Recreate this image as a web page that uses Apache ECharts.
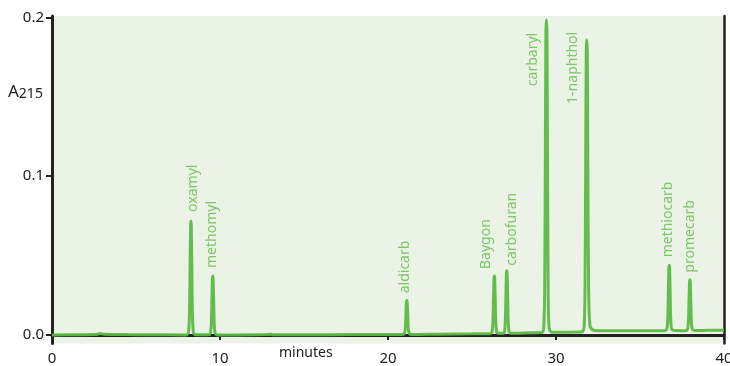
<!DOCTYPE html>
<html><head><meta charset="utf-8">
<script src="https://cdn.jsdelivr.net/npm/echarts@6/dist/echarts.min.js"></script>
<style>html,body{margin:0;padding:0;background:#fff}#c{width:730px;height:366px}</style>
</head><body><div id="c"></div>
<script>
// ---- data ----
const xTicks = [0, 10, 20, 30, 40];
const yTicks = [0.0, 0.1, 0.2];
const peakNames = ['oxamyl','methomyl','aldicarb','Baygon','carbofuran','carbaryl','1-naphthol','methiocarb','promecarb'];
const peakTimes = [8.27, 9.57, 21.12, 26.33, 27.07, 29.43, 31.83, 36.74, 37.97];
const peakHeights = [0.0718, 0.0371, 0.0218, 0.0371, 0.0404, 0.1984, 0.1858, 0.0438, 0.0348];
const traceTime = [
  0, 1.5, 2.6, 2.85, 3.1, 4.5, 6, 7.9,
  8.00, 8.12, 8.18, 8.22, 8.25, 8.27, 8.29, 8.32, 8.36, 8.42, 8.55,
  9.30, 9.42, 9.48, 9.52, 9.55, 9.57, 9.59, 9.62, 9.66, 9.72, 9.85,
  11, 12.8, 13, 13.2, 15, 18, 20.8,
  20.85, 20.97, 21.03, 21.07, 21.10, 21.12, 21.14, 21.17, 21.21, 21.27, 21.40,
  23, 25, 26.05,
  26.06, 26.18, 26.24, 26.28, 26.31, 26.33, 26.35, 26.38, 26.42, 26.48, 26.58,
  26.80, 26.92, 26.98, 27.02, 27.05, 27.07, 27.09, 27.12, 27.16, 27.22, 27.35,
  28.5, 29.15,
  29.27, 29.33, 29.37, 29.40, 29.43, 29.46, 29.49, 29.53, 29.59, 29.75,
  31.5,
  31.55, 31.67, 31.73, 31.77, 31.80, 31.83, 31.86, 31.89, 31.94, 32.02, 32.2, 32.5,
  34, 36.45,
  36.47, 36.59, 36.65, 36.69, 36.72, 36.74, 36.76, 36.79, 36.83, 36.89, 37.05,
  37.70, 37.82, 37.88, 37.92, 37.95, 37.97, 37.99, 38.02, 38.06, 38.12, 38.28,
  39, 40
];
const traceA215 = [
  0.0000, 0.0001, 0.0002, 0.0009, 0.0004, 0.0002, 0.0001, 0.0000,
  0.0000, 0.0015, 0.0122, 0.0452, 0.0689, 0.0718, 0.0689, 0.0452, 0.0122, 0.0015, 0.0001,
  0.0001, 0.0008, 0.0063, 0.0234, 0.0356, 0.0371, 0.0356, 0.0234, 0.0063, 0.0008, 0.0000,
  0.0000, 0.0002, 0.0004, 0.0001, 0.0001, 0.0002, 0.0003,
  0.0003, 0.0007, 0.0040, 0.0139, 0.0210, 0.0218, 0.0210, 0.0139, 0.0040, 0.0007, 0.0003,
  0.0005, 0.0007, 0.0008,
  0.0008, 0.0015, 0.0070, 0.0237, 0.0357, 0.0371, 0.0357, 0.0237, 0.0070, 0.0015, 0.0010,
  0.0009, 0.0016, 0.0076, 0.0257, 0.0388, 0.0404, 0.0388, 0.0257, 0.0076, 0.0016, 0.0010,
  0.0014, 0.0015,
  0.0045, 0.0340, 0.1250, 0.1900, 0.1984, 0.1900, 0.1250, 0.0340, 0.0045, 0.0017,
  0.0018,
  0.0018, 0.0045, 0.0320, 0.1170, 0.1780, 0.1858, 0.1780, 0.1170, 0.0320, 0.0060, 0.0030, 0.0026,
  0.0026, 0.0027,
  0.0027, 0.0035, 0.0095, 0.0286, 0.0421, 0.0438, 0.0421, 0.0286, 0.0095, 0.0035, 0.0028,
  0.0027, 0.0033, 0.0080, 0.0229, 0.0335, 0.0348, 0.0335, 0.0229, 0.0080, 0.0033, 0.0028,
  0.0029, 0.0030
];

// ---- styling ----
const GREEN = '#5cb944';
const LABEL_GREEN = '#5fba46';
const AXIS = '#222222';
const FONT = 'Noto Sans';
const labelStyle = {
  // [position, distance, screen x shift, align]
  'oxamyl':     ['top', 9, 2, 'left'],
  'methomyl':   ['top', 8, -1, 'left'],
  'aldicarb':   ['top', 7, -2, 'left'],
  'Baygon':     ['top', 7, -8, 'left'],
  'carbofuran': ['top', 5, 5, 'left'],
  'carbaryl':   ['bottom', 13, -13, 'right'],
  '1-naphthol': ['bottom', -8, -14, 'right'],
  'methiocarb': ['top', 8, -1, 'left'],
  'promecarb':  ['top', 7, 0, 'left']
};

const lineData = traceTime.map((t, i) => [t, traceA215[i]]);
const peakData = peakNames.map((n, i) => {
  const s = labelStyle[n];
  return {
    name: n,
    value: [peakTimes[i], peakHeights[i]],
    label: { position: s[0], distance: s[1], offset: [0, s[2]], align: s[3] }
  };
});

const chart = echarts.init(document.getElementById('c'), null, { renderer: 'canvas' });
chart.setOption({
  animation: false,
  grid: { left: 52, right: 6, top: 16, bottom: 22.5, show: true, backgroundColor: '#ebf3e6', borderWidth: 0,
          containLabel: false, outerBoundsMode: 'none' },
  xAxis: {
    type: 'value', min: xTicks[0], max: xTicks[xTicks.length - 1], interval: 10,
    axisLine: { show: true, lineStyle: { color: AXIS, width: 3 } },
    axisTick: { show: true, length: 5, lineStyle: { color: AXIS, width: 2 } },
    axisLabel: { color: '#222', fontSize: 15, fontFamily: FONT, margin: 8, customValues: xTicks, hideOverlap: false },
    splitLine: { show: false }
  },
  yAxis: [{
    type: 'value', min: -0.0054, max: 0.2008,
    axisLine: { show: true, lineStyle: { color: AXIS, width: 3 } },
    axisTick: { show: true, length: 6, lineStyle: { color: AXIS, width: 2 }, customValues: yTicks },
    axisLabel: { color: '#222', fontSize: 15, fontFamily: FONT, margin: 8, customValues: yTicks,
                 formatter: v => v.toFixed(1) },
    splitLine: { show: false }
  }, {
    type: 'value', min: -0.0054, max: 0.2008, position: 'right',
    axisLine: { show: true, lineStyle: { color: AXIS, width: 2.5 } },
    axisTick: { show: false }, axisLabel: { show: false }, splitLine: { show: false }
  }],
  graphic: [
    { type: 'text', left: 8, top: 84, style: {
        text: '{a|A}{s|215}',
        rich: { a: { fontSize: 17, fontFamily: FONT, fill: '#222', verticalAlign: 'bottom' },
                s: { fontSize: 14, fontFamily: FONT, fill: '#222', padding: [9, 0, 0, 0], verticalAlign: 'bottom' } } } },
    { type: 'text', left: 279, top: 346, style: { text: 'minutes', fontSize: 14, fontFamily: FONT, fill: '#222' } }
  ],
  series: [{
    type: 'line', data: lineData, showSymbol: false, symbol: 'none', smooth: 0.3,
    lineStyle: { color: GREEN, width: 3, opacity: 0.95 }, z: 3
  }, {
    type: 'scatter', data: peakData, symbolSize: 0, z: 4,
    label: { show: true, formatter: '{b}', rotate: 90, verticalAlign: 'middle',
             color: LABEL_GREEN, fontSize: 14, fontFamily: FONT }
  }]
});
</script></body></html>
